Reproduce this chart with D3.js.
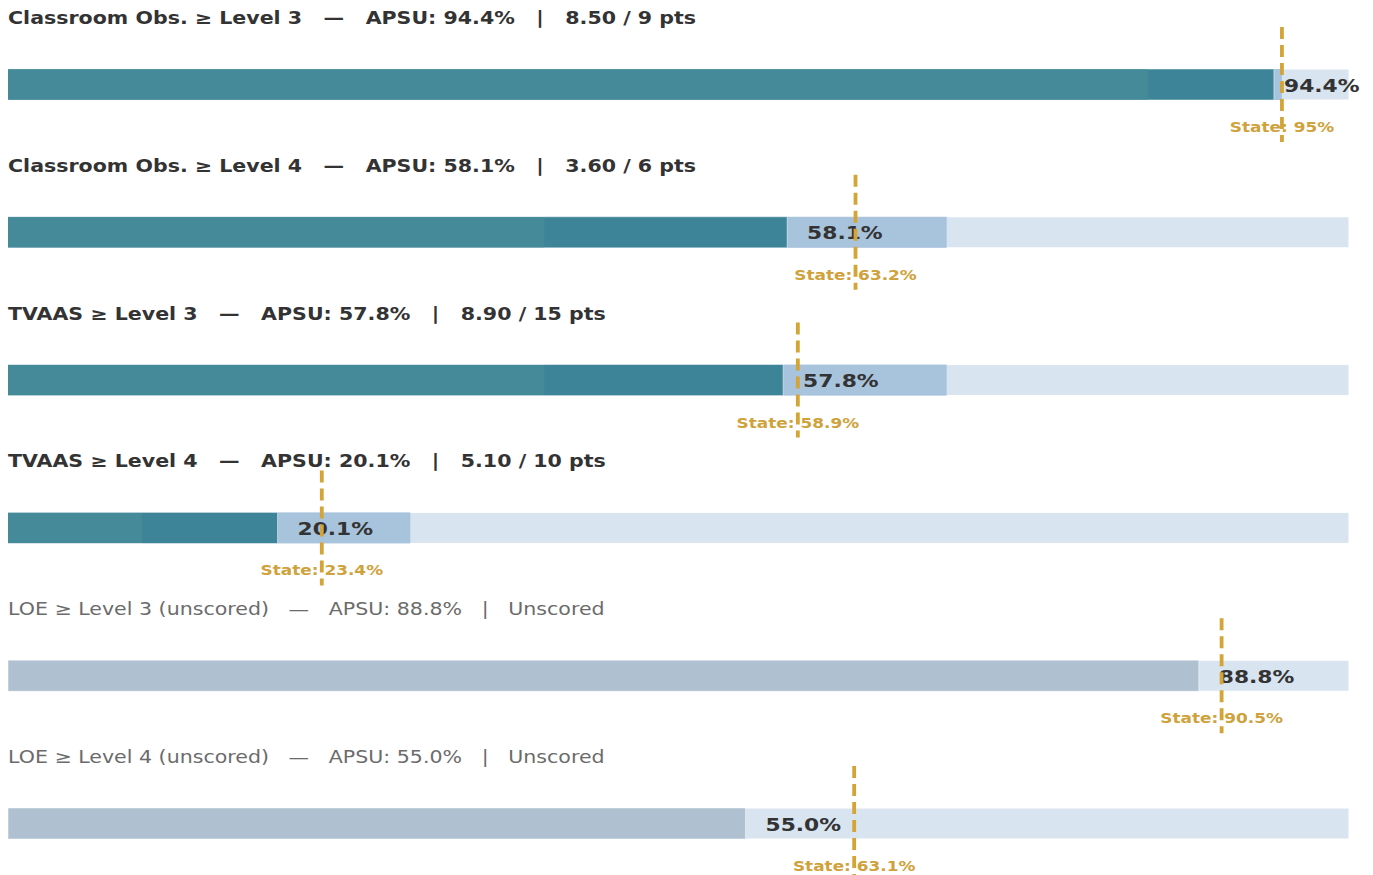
<!DOCTYPE html>
<html>
<head>
<meta charset="utf-8">
<script src="https://cdn.jsdelivr.net/npm/d3@7"></script>
<style>
  body { margin: 0; background: #fff; }
  text { font-family: "DejaVu Sans", sans-serif; white-space: pre; }
</style>
</head>
<body>
<div id="chart"></div>
<script>
// metrics, one row each
var labels = ["Classroom Obs. \u2265 Level 3", "Classroom Obs. \u2265 Level 4", "TVAAS \u2265 Level 3",
              "TVAAS \u2265 Level 4", "LOE \u2265 Level 3 (unscored)", "LOE \u2265 Level 4 (unscored)"];
var apsu = [94.4, 58.1, 57.8, 20.1, 88.8, 55.0];
var state = [95, 63.2, 58.9, 23.4, 90.5, 63.1];
var points = [8.50, 3.60, 8.90, 5.10, null, null];
var maxPoints = [9, 6, 15, 10, null, null];
var floorPct = [85, 40, 40, 10, null, null];   // start of the scoring band
var targetPct = [95, 70, 70, 30, null, null];  // full points

var W = 1373, H = 875;
var stretch = 1.21; // text in the original is a bit wide
var svg = d3.select("#chart").append("svg").attr("width", W).attr("height", H);

var x = d3.scaleLinear().domain([0, 100]).range([8, 1349]);
var rowY = d3.scaleLinear().domain([0, labels.length - 1]).range([0, 739]);

var barTop = 69, barH = 31;

var rows = labels.map(function(l, i) {
  return { label: l, apsu: apsu[i], state: state[i], pts: points[i], max: maxPoints[i],
           floor: floorPct[i], target: targetPct[i], scored: points[i] != null };
});

function place(tx, ty) {
  return "translate(" + tx + "," + ty + ") scale(" + stretch + ",1)";
}

var g = svg.selectAll(".row").data(rows).enter().append("g")
  .attr("class", "row")
  .attr("transform", function(d, i) { return "translate(0," + rowY(i) + ")"; });

// titles
g.append("text")
  .attr("transform", place(8, 24))
  .style("font-size", "17px")
  .style("font-weight", function(d) { return d.scored ? "bold" : "normal"; })
  .style("fill", function(d) { return d.scored ? "#333333" : "#6b6b6b"; })
  .text(function(d) {
    var tail = d.scored ? d.pts.toFixed(2) + " / " + d.max + " pts" : "Unscored";
    return d.label + "   \u2014   APSU: " + d.apsu.toFixed(1) + "%   |   " + tail;
  });

// background bands
g.append("rect")
  .attr("x", x(0)).attr("y", barTop).attr("width", x(100) - x(0)).attr("height", barH)
  .style("fill", "#d8e4f0").style("stroke", "#fff").style("stroke-width", 1);

g.filter(function(d) { return d.scored; }).append("rect")
  .attr("x", function(d) { return x(d.floor); }).attr("y", barTop)
  .attr("width", function(d) { return x(d.target) - x(d.floor); }).attr("height", barH)
  .style("fill", "#a8c3dc");

// APSU bar
g.append("rect")
  .attr("x", x(0)).attr("y", barTop)
  .attr("width", function(d) { return x(d.apsu) - x(0); }).attr("height", barH)
  .style("fill", function(d) { return d.scored ? "#3d8499" : "#afc1d1"; })
  .style("stroke", "#fff").style("stroke-width", 0.8).style("stroke-opacity", 0.6);

// part of the bar below the floor is a touch lighter
g.filter(function(d) { return d.scored; }).append("rect")
  .attr("x", x(0)).attr("y", barTop + 0.5)
  .attr("width", function(d) { return x(Math.min(d.floor, d.apsu)) - x(0); }).attr("height", barH - 1)
  .style("fill", "#458a98");

// value labels
g.append("text")
  .attr("transform", function(d) {
    return place(Math.min(x(d.apsu) + 20, x(100) - 65), barTop + barH / 2 + 7);
  })
  .style("font-size", "18px").style("font-weight", "bold").style("fill", "#333333")
  .text(function(d) { return d.apsu.toFixed(1) + "%"; });

// state labels
g.append("text")
  .attr("transform", function(d) { return place(x(d.state), 132); })
  .attr("text-anchor", "middle")
  .style("font-size", "14px").style("font-weight", "bold").style("fill", "#cfa23c")
  .text(function(d) { return "State: " + d.state + "%"; });

// state marker
g.append("line")
  .attr("x1", function(d) { return x(d.state); }).attr("x2", function(d) { return x(d.state); })
  .attr("y1", 27).attr("y2", 142)
  .style("stroke", "#d4a437").style("stroke-width", 3.8)
  .style("stroke-dasharray", "12,6");
</script>
</body>
</html>
